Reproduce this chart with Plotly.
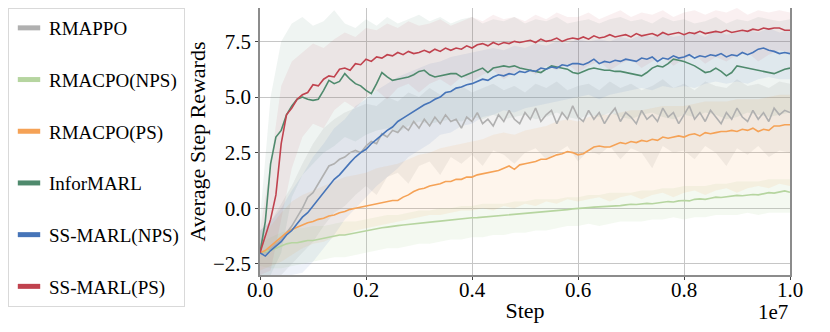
import numpy as np
import plotly.graph_objects as go

# x grids (environment steps)
STEPS = np.linspace(0, 1e7, 101)
BAND_STEPS = np.linspace(0, 1e7, 51)

X_TICKS = [0, 2e6, 4e6, 6e6, 8e6, 1e7]
X_TICK_TEXT = ['0.0', '0.2', '0.4', '0.6', '0.8', '1.0']
Y_TICKS = [-2.5, 0.0, 2.5, 5.0, 7.5]

# mean curves
RMAPPO_MEAN = [
    -2.0, -2.0, -1.8, -1.6, -1.4, -1.1, -0.8, -0.4, 0.0, 0.5,
    0.7, 1.1, 1.5, 1.9, 2.0, 2.2, 2.3, 2.5, 2.6, 2.5,
    2.8, 3.0, 2.9, 3.35, 3.2, 3.5, 3.4, 3.7, 3.5, 3.9,
    3.6, 4.0, 3.7, 4.1, 3.8, 4.2, 3.9, 4.0, 3.6, 4.1,
    3.9, 4.3, 3.8, 4.0, 3.7, 4.2, 3.9, 4.4, 4.0, 3.8,
    4.3, 4.0, 4.5, 3.9, 4.2, 4.4, 3.8, 4.3, 4.0, 4.6,
    4.1, 3.9, 4.4, 4.0, 4.3, 3.8, 4.2, 4.5, 3.9, 4.3,
    4.1, 3.8, 4.4, 4.0, 4.2, 3.9, 4.5, 4.1, 4.3, 3.8,
    4.2, 4.6, 4.0, 4.3, 3.9, 4.4, 4.1, 3.8, 4.3, 4.0,
    4.5, 4.1, 3.9, 4.4, 4.0, 4.3, 3.9, 4.5, 4.2, 4.4,
    4.3]
RMACPO_NPS_MEAN = [
    -2.0, -1.95, -1.9, -1.8, -1.7, -1.6, -1.55, -1.55, -1.5, -1.45,
    -1.45, -1.4, -1.35, -1.3, -1.25, -1.2, -1.2, -1.15, -1.1, -1.05,
    -1.0, -0.95, -0.9, -0.88, -0.85, -0.8, -0.78, -0.75, -0.72, -0.7,
    -0.68, -0.65, -0.62, -0.6, -0.58, -0.55, -0.53, -0.5, -0.48, -0.45,
    -0.43, -0.42, -0.4, -0.38, -0.36, -0.35, -0.32, -0.3, -0.28, -0.26,
    -0.25, -0.22, -0.2, -0.18, -0.16, -0.14, -0.12, -0.1, -0.06, -0.03,
    0.0, 0.02, 0.03, 0.05, 0.06, 0.08, 0.1, 0.12, 0.12, 0.15,
    0.18, 0.17, 0.2, 0.22, 0.2, 0.25, 0.27, 0.3, 0.28, 0.33,
    0.35, 0.33, 0.4, 0.42, 0.4, 0.45, 0.5, 0.48, 0.52, 0.55,
    0.58, 0.56, 0.6, 0.62, 0.6, 0.65, 0.7, 0.68, 0.73, 0.78,
    0.72]
RMACPO_PS_MEAN = [
    -2.0, -1.9, -1.7, -1.5, -1.3, -1.1, -0.95, -0.85, -0.75, -0.65,
    -0.6, -0.5, -0.45, -0.35, -0.3, -0.2, -0.15, -0.05, 0.0, 0.05,
    0.1, 0.15, 0.2, 0.25, 0.3, 0.35, 0.35, 0.5, 0.6, 0.75,
    0.85, 0.9, 1.0, 1.05, 1.1, 1.2, 1.2, 1.3, 1.3, 1.4,
    1.4, 1.5, 1.55, 1.6, 1.65, 1.7, 1.8, 1.9, 1.75, 1.95,
    2.0, 2.05, 2.1, 2.2, 2.2, 2.3, 2.4, 2.45, 2.55, 2.5,
    2.4, 2.45, 2.6, 2.75, 2.8, 2.75, 2.75, 2.85, 2.95, 2.9,
    3.0, 2.95, 3.05, 3.0, 3.1, 3.05, 3.2, 3.15, 3.2, 3.25,
    3.2, 3.3, 3.35, 3.25, 3.4, 3.35, 3.4, 3.45, 3.45, 3.5,
    3.45, 3.55, 3.5, 3.6, 3.45, 3.55, 3.5, 3.7, 3.7, 3.75,
    3.75]
INFORMARL_MEAN = [
    -2.0, -0.6, 2.0, 3.2, 3.5, 4.2, 4.6, 4.9, 5.0, 4.9,
    4.85, 4.9, 5.3, 5.75, 5.6, 5.7, 6.05, 5.8, 5.6, 5.5,
    5.3, 5.15, 5.6, 6.1, 5.9, 5.75, 5.8, 5.85, 5.9, 6.0,
    6.15, 6.2, 6.0, 5.9, 5.95, 6.0, 6.05, 6.05, 5.9, 6.0,
    6.1, 6.2, 6.3, 6.1, 6.3, 6.35, 6.4, 6.35, 6.4, 6.3,
    6.25, 6.2, 6.15, 6.1, 6.25, 6.4, 6.35, 6.3, 6.25, 6.1,
    6.05, 6.15, 6.25, 6.3, 6.25, 6.2, 6.2, 6.15, 6.15, 6.1,
    6.05, 6.0, 5.95, 6.1, 6.3, 6.4, 6.35, 6.5, 6.7, 6.65,
    6.6, 6.5, 6.4, 6.25, 6.1, 6.15, 6.3, 6.15, 5.95, 6.1,
    6.4, 6.35, 6.3, 6.25, 6.2, 6.15, 6.1, 6.05, 6.15, 6.25,
    6.3]
SSMARL_NPS_MEAN = [
    -2.0, -2.15, -1.9, -1.7, -1.5, -1.2, -1.0, -0.7, -0.4, -0.2,
    0.1, 0.45, 0.7, 1.0, 1.3, 1.5, 1.8, 2.05, 2.3, 2.5,
    2.65, 2.9, 3.1, 3.3, 3.5, 3.65, 3.9, 4.05, 4.2, 4.35,
    4.5, 4.65, 4.75, 4.9, 5.0, 5.2, 5.25, 5.4, 5.45, 5.55,
    5.6, 5.7, 5.8, 5.75, 5.9, 6.0, 5.95, 6.05, 6.0, 6.15,
    6.1, 6.2, 6.15, 6.3, 6.25, 6.35, 6.3, 6.45, 6.4, 6.5,
    6.5, 6.45, 6.55, 6.7, 6.5, 6.6, 6.55, 6.65, 6.6, 6.7,
    6.65, 6.6, 6.75, 6.7, 6.8, 6.6, 6.75, 6.7, 6.85, 6.75,
    6.8, 6.9, 6.75, 6.85, 6.8, 6.9, 6.85, 6.95, 6.8, 6.9,
    6.85, 7.0, 6.9, 7.0, 7.15, 7.2, 7.1, 7.05, 6.95, 7.0,
    6.95]
SSMARL_PS_MEAN = [
    -2.0, -1.3, -0.5, 0.6, 2.9, 4.2, 4.5, 4.9, 5.1, 5.2,
    5.55, 5.5, 5.8, 5.95, 5.9, 6.25, 6.3, 6.2, 6.5, 6.45,
    6.7, 6.6, 6.8, 6.75, 6.9, 6.85, 7.0, 6.9, 7.05, 6.95,
    7.0, 7.1, 7.0, 7.15, 7.05, 7.2, 7.1, 7.2, 7.15, 7.3,
    7.2, 7.35, 7.4, 7.3, 7.45, 7.35, 7.45, 7.4, 7.5, 7.45,
    7.5, 7.55, 7.45, 7.6, 7.5, 7.55, 7.65, 7.5, 7.6, 7.65,
    7.6, 7.7, 7.6, 7.75, 7.65, 7.7, 7.8, 7.7, 7.75, 7.8,
    7.7, 7.85, 7.75, 7.8, 7.85, 7.75, 7.9, 7.8, 7.85, 7.9,
    7.8, 7.9, 7.85, 7.95, 7.85, 7.9, 7.95, 7.9, 8.0, 7.9,
    7.95, 8.0, 7.95, 8.05, 8.0, 8.1, 8.05, 8.1, 8.1, 8.0,
    8.0]

# shaded bands (upper / lower edges)
RMAPPO_UPPER = [
    -1.0, -0.6, 0.2, 1.0, 2.0, 2.9, 3.6, 4.0, 4.3, 4.5,
    4.7, 4.6, 5.0, 4.8, 5.2, 5.0, 5.4, 5.1, 5.3, 5.5,
    5.2, 5.4, 5.6, 5.3, 5.5, 5.2, 5.6, 5.4, 5.7, 5.3,
    5.5, 5.6, 5.3, 5.7, 5.4, 5.6, 5.3, 5.5, 5.8, 5.4,
    5.6, 5.3, 5.7, 5.5, 5.4, 5.8, 5.5, 5.6, 5.4, 5.7,
    5.6]
RMAPPO_LOWER = [
    -3.0, -3.0, -3.0, -2.5, -2.0, -1.5, -0.8, -0.2, 0.1, 0.6,
    1.0, 0.6, 1.4, 1.6, 1.1, 1.9, 2.1, 1.5, 2.3, 2.0,
    2.4, 1.9, 2.6, 2.4, 2.0, 2.5, 2.7, 2.2, 2.5, 2.8,
    2.1, 2.6, 2.4, 2.8, 2.2, 2.7, 2.5, 1.8, 2.8, 2.5,
    2.6, 2.2, 2.8, 2.5, 1.9, 2.7, 2.4, 2.8, 2.3, 2.6,
    2.5]
RMACPO_NPS_UPPER = [
    -1.6, -1.3, -1.1, -0.9, -0.9, -0.8, -0.8, -0.7, -0.6, -0.6,
    -0.5, -0.4, -0.3, -0.3, -0.2, -0.1, -0.1, 0.0, 0.0, 0.1,
    0.1, 0.2, 0.2, 0.2, 0.3, 0.3, 0.4, 0.4, 0.4, 0.5,
    0.5, 0.6, 0.6, 0.7, 0.7, 0.7, 0.8, 0.8, 0.9, 0.9,
    1.0, 1.0, 1.0, 1.1, 1.1, 1.2, 1.2, 1.2, 1.3, 1.3,
    1.3]
RMACPO_NPS_LOWER = [
    -2.6, -2.7, -2.7, -2.6, -2.5, -2.4, -2.3, -2.2, -2.2, -2.1,
    -2.0, -1.9, -1.8, -1.8, -1.7, -1.6, -1.6, -1.5, -1.4, -1.4,
    -1.3, -1.3, -1.2, -1.2, -1.1, -1.1, -1.0, -1.0, -0.9, -0.8,
    -0.8, -0.7, -0.8, -0.7, -0.6, -0.6, -0.6, -0.5, -0.5, -0.4,
    -0.5, -0.4, -0.4, -0.3, -0.3, -0.3, -0.2, -0.3, -0.2, -0.2,
    -0.2]
RMACPO_PS_UPPER = [
    -1.5, -0.8, -0.2, 0.3, 0.6, 0.8, 1.0, 1.2, 1.4, 1.5,
    1.6, 1.8, 1.9, 2.0, 2.2, 2.4, 2.5, 2.7, 2.8, 2.9,
    3.0, 3.1, 3.3, 3.4, 3.3, 3.5, 3.6, 3.7, 3.9, 4.0,
    3.9, 4.1, 4.2, 4.2, 4.3, 4.4, 4.4, 4.5, 4.6, 4.6,
    4.6, 4.7, 4.8, 4.8, 4.8, 4.9, 4.9, 4.9, 5.0, 5.1,
    5.1]
RMACPO_PS_LOWER = [
    -2.8, -2.6, -2.4, -2.1, -1.8, -1.6, -1.5, -1.3, -1.2, -1.0,
    -0.9, -0.8, -0.7, -0.6, -0.5, -0.4, -0.3, -0.3, -0.2, -0.1,
    -0.1, 0.0, -0.1, 0.1, 0.0, 0.2, 0.1, 0.3, 0.2, 0.4,
    0.3, 0.4, 0.5, 0.3, 0.5, 0.6, 0.4, 0.6, 0.7, 0.5,
    0.7, 0.8, 0.6, 0.8, 0.9, 0.7, 0.9, 1.0, 0.9, 1.1,
    1.0]
INFORMARL_UPPER = [
    -0.5, 5.0, 7.5, 8.3, 8.6, 8.2, 8.4, 8.9, 8.3, 8.1,
    8.5, 8.2, 8.6, 8.3, 8.5, 8.7, 8.4, 8.6, 8.3, 8.5,
    8.6, 8.3, 8.5, 8.4, 8.6, 8.3, 8.5, 8.4, 8.6, 8.3,
    8.4, 8.5, 8.3, 8.5, 8.6, 8.4, 8.5, 8.3, 8.6, 8.4,
    8.5, 8.3, 8.4, 8.6, 8.3, 8.5, 8.4, 8.6, 8.5, 8.4,
    8.5]
INFORMARL_LOWER = [
    -3.0, -3.0, -2.0, 0.5, 1.5, 2.0, 2.5, 2.8, 3.2, 3.0,
    3.3, 3.5, 3.6, 3.4, 3.7, 3.9, 3.8, 3.9, 4.0, 3.9,
    4.1, 4.0, 4.2, 4.0, 4.1, 4.2, 4.0, 4.1, 4.3, 4.1,
    4.0, 4.2, 4.1, 4.3, 4.1, 4.0, 4.2, 4.3, 4.1, 4.0,
    4.2, 4.1, 4.3, 4.2, 4.0, 4.1, 4.3, 4.2, 4.1, 4.2,
    4.3]
SSMARL_NPS_UPPER = [
    -1.0, -0.6, 0.0, 0.8, 1.5, 2.3, 2.9, 3.6, 4.0, 4.6,
    4.9, 5.3, 5.6, 5.9, 6.1, 6.3, 6.5, 6.6, 6.8, 6.9,
    7.0, 7.1, 7.2, 7.1, 7.3, 7.2, 7.4, 7.3, 7.5, 7.4,
    7.6, 7.5, 7.6, 7.5, 7.7, 7.6, 7.8, 7.7, 7.9, 7.7,
    7.8, 7.9, 7.7, 8.0, 7.8, 7.9, 8.0, 7.9, 8.1, 7.9,
    8.0]
SSMARL_NPS_LOWER = [
    -3.0, -3.0, -3.0, -3.0, -2.9, -2.4, -1.8, -1.2, -0.5, 0.0,
    0.5, 1.0, 1.4, 1.8, 2.3, 2.6, 2.9, 3.3, 3.4, 3.7,
    3.8, 4.1, 4.2, 4.4, 4.3, 4.5, 4.6, 4.7, 4.8, 4.9,
    5.0, 5.1, 4.9, 5.1, 5.2, 5.3, 5.4, 5.3, 5.5, 5.4,
    5.5, 5.4, 5.6, 5.7, 5.6, 5.7, 5.6, 5.8, 5.9, 5.8,
    5.8]
SSMARL_PS_UPPER = [
    -1.0, 2.0, 5.5, 6.6, 7.0, 7.4, 7.2, 7.6, 7.9, 7.7,
    8.1, 8.0, 8.3, 8.1, 8.4, 8.2, 8.3, 8.5, 8.2, 8.4,
    8.6, 8.4, 8.7, 8.5, 8.6, 8.4, 8.7, 8.5, 8.8, 8.6,
    8.6, 8.8, 8.5, 8.7, 8.9, 8.6, 8.8, 8.7, 8.9, 8.6,
    8.8, 8.9, 8.7, 8.9, 8.8, 9.0, 8.7, 8.9, 8.8, 8.9,
    8.8]
SSMARL_PS_LOWER = [
    -3.0, -2.8, -0.5, 1.8, 3.2, 3.8, 3.6, 4.4, 4.8, 4.5,
    5.0, 5.3, 4.9, 5.4, 5.6, 5.2, 5.6, 5.8, 5.5, 5.9,
    5.7, 6.0, 6.2, 5.8, 6.1, 6.3, 6.0, 6.4, 6.2, 6.5,
    6.1, 6.4, 6.6, 6.2, 6.5, 6.7, 6.3, 6.6, 6.8, 6.4,
    6.7, 6.9, 6.5, 6.8, 6.6, 6.9, 7.0, 6.6, 6.9, 7.1,
    7.0]

series = [
    ('RMAPPO', RMAPPO_MEAN, RMAPPO_UPPER, RMAPPO_LOWER, (176, 176, 176), 0.18),
    ('RMACPO(NPS)', RMACPO_NPS_MEAN, RMACPO_NPS_UPPER, RMACPO_NPS_LOWER, (182, 213, 160), 0.15),
    ('RMACPO(PS)', RMACPO_PS_MEAN, RMACPO_PS_UPPER, RMACPO_PS_LOWER, (245, 162, 86), 0.11),
    ('InforMARL', INFORMARL_MEAN, INFORMARL_UPPER, INFORMARL_LOWER, (79, 138, 109), 0.09),
    ('SS-MARL(NPS)', SSMARL_NPS_MEAN, SSMARL_NPS_UPPER, SSMARL_NPS_LOWER, (70, 116, 184), 0.09),
    ('SS-MARL(PS)', SSMARL_PS_MEAN, SSMARL_PS_UPPER, SSMARL_PS_LOWER, (192, 66, 78), 0.08),
]

FONT = 'Liberation Serif, Tinos, Times New Roman, Times, serif'

# the page body keeps an 8px default margin, so the figure is 8px smaller
W, H = 822, 324

fig = go.Figure()

# shaded bands first
for name, mean, upper, lower, rgb, alpha in series:
    r, g, b = rgb
    fig.add_trace(go.Scatter(
        x=np.concatenate([BAND_STEPS, BAND_STEPS[::-1]]),
        y=np.concatenate([upper, lower[::-1]]),
        fill='toself', fillcolor=f'rgba({r},{g},{b},{alpha})',
        line=dict(width=0), mode='lines',
        showlegend=False, hoverinfo='skip',
    ))

# mean curves
for name, mean, upper, lower, rgb, alpha in series:
    r, g, b = rgb
    fig.add_trace(go.Scatter(
        x=STEPS, y=mean, mode='lines', name=name,
        line=dict(color=f'rgb({r},{g},{b})', width=1.6),
        showlegend=False,
    ))

# legend entries with short thick swatches
for name, mean, upper, lower, rgb, alpha in series:
    r, g, b = rgb
    fig.add_trace(go.Scatter(
        x=[None], y=[None], mode='markers', name=name,
        legendgroup=name,
        marker=dict(symbol='line-ew', size=16,
                    line=dict(color=f'rgb({r},{g},{b})', width=5)),
    ))

fig.add_annotation(
    text='1e7', xref='paper', yref='paper', x=1.0, y=-0.137,
    xanchor='right', yanchor='middle', showarrow=False,
    font=dict(family=FONT, size=21, color='black'),
)

axis_common = dict(
    showgrid=True, gridcolor='#c6c6c6', gridwidth=1,
    showline=True, linecolor='#8c8c8c', linewidth=1.5, mirror=True,
    zeroline=False, ticks='outside', ticklen=3, tickcolor='#444',
    tickfont=dict(family=FONT, size=21, color='black'),
    automargin=False,
)

fig.update_layout(
    width=W, height=H,
    margin=dict(l=252, r=40, t=0, b=57, autoexpand=False),
    paper_bgcolor='white', plot_bgcolor='white',
    font=dict(family=FONT, color='black'),
    xaxis=dict(
        range=[0, 1e7], tickvals=X_TICKS, ticktext=X_TICK_TEXT,
        ticklabelstandoff=-8,
        title=dict(text='Step', font=dict(family=FONT, size=22), standoff=2),
        **axis_common,
    ),
    yaxis=dict(
        range=[-3, 9], tickvals=Y_TICKS, tickformat='.1f',
        title=dict(text='Average Step Rewards', font=dict(family=FONT, size=22), standoff=6),
        **axis_common,
    ),
    legend=dict(
        xref='container', yref='container',
        x=0.0, y=1.0, xanchor='left', yanchor='top',
        font=dict(family=FONT, size=19, color='black'),
        bordercolor='#d9d9d9', borderwidth=1, bgcolor='white',
        tracegroupgap=24, itemwidth=30, maxheight=330,
    ),
    showlegend=True,
)

fig.write_html('out.html')
